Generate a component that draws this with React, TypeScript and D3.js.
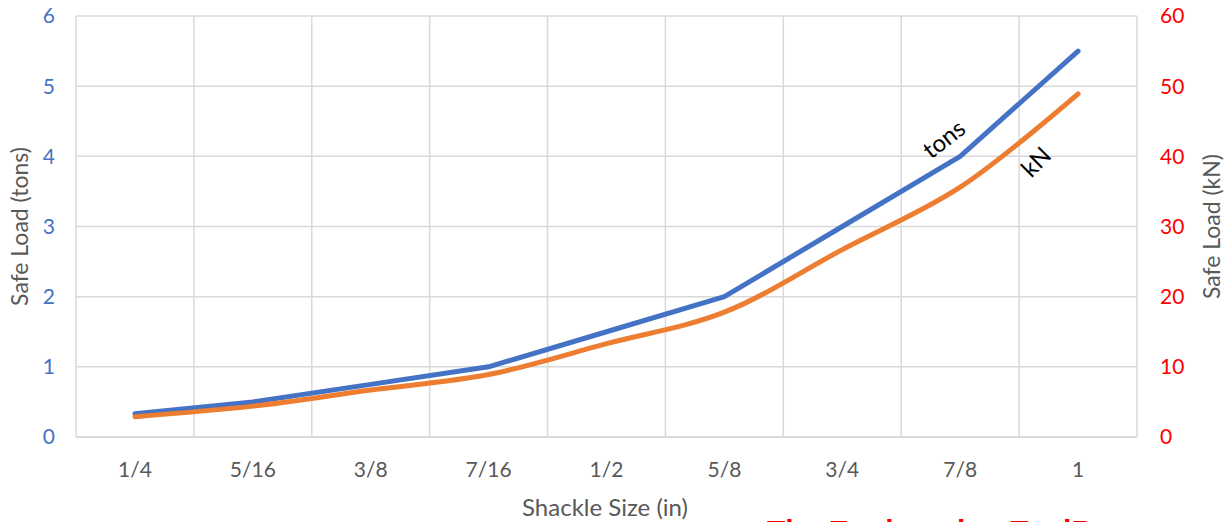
import React from "react";
import * as d3 from "d3";

const categories = ["1/4", "5/16", "3/8", "7/16", "1/2", "5/8", "3/4", "7/8", "1"];
const tons = [0.33, 0.5, 0.75, 1, 1.5, 2, 3, 4, 5.5];
const kN = [2.9, 4.4, 6.7, 8.9, 13.3, 17.8, 26.7, 35.6, 48.9];
const leftTicks = [0, 1, 2, 3, 4, 5, 6];
const rightTicks = [0, 10, 20, 30, 40, 50, 60];

const W = 1227;
const H = 522;
const m = { left: 76, right: 1137, top: 16, bottom: 437 };
const font = "Lato, 'Open Sans', sans-serif";

export default function App() {
  const x = d3.scaleBand<string>().domain(categories).range([m.left, m.right]).padding(0);
  const yL = d3.scaleLinear().domain([0, 6]).range([m.bottom, m.top]);
  const yR = d3.scaleLinear().domain([0, 60]).range([m.bottom, m.top]);
  const cx = (c: string) => (x(c) as number) + x.bandwidth() / 2;

  const tonsLine = d3
    .line<number>()
    .x((_, i) => cx(categories[i]))
    .y((d) => yL(d))
    .curve(d3.curveLinear)(tons) as string;
  const kNLine = d3
    .line<number>()
    .x((_, i) => cx(categories[i]))
    .y((d) => yR(d))
    .curve(d3.curveCatmullRom.alpha(0.5))(kN) as string;

  const boundaries = categories.map((c) => x(c) as number).concat([m.right]);

  return (
    <svg
      width={W}
      height={H}
      style={{ position: "absolute", left: 0, top: 0, background: "#fff", overflow: "hidden" }}
      fontFamily={font}
    >
      <rect x={0} y={0} width={W} height={H} fill="#fff" />
      {leftTicks.map((t) => (
        <line key={"h" + t} x1={m.left} x2={m.right} y1={yL(t)} y2={yL(t)} stroke="#D9D9D9" strokeWidth={1.5} />
      ))}
      {boundaries.map((b, i) => (
        <line key={"v" + i} x1={b} x2={b} y1={m.top} y2={m.bottom} stroke="#D9D9D9" strokeWidth={1.5} />
      ))}
      <line x1={m.left} x2={m.right} y1={m.bottom} y2={m.bottom} stroke="#D9D9D9" strokeWidth={2} />

      {leftTicks.map((t) => (
        <text key={"l" + t} x={55} y={yL(t)} dy="0.35em" textAnchor="end" fontSize={21} fill="#4472C4">
          {t}
        </text>
      ))}
      {rightTicks.map((t) => (
        <text key={"r" + t} x={1160} y={yR(t)} dy="0.35em" textAnchor="start" fontSize={21} fill="#FF0000">
          {t}
        </text>
      ))}
      {categories.map((c) => (
        <text key={"c" + c} x={cx(c)} y={470} dy="0.35em" textAnchor="middle" fontSize={21} fill="#595959">
          {c}
        </text>
      ))}

      <text x={605} y={508} dy="0.35em" textAnchor="middle" fontSize={24} fill="#595959">
        Shackle Size (in)
      </text>
      <text
        transform={`translate(20,${(m.top + m.bottom) / 2}) rotate(-90)`}
        textAnchor="middle"
        dy="0.35em"
        fontSize={23}
        fill="#595959"
      >
        Safe Load (tons)
      </text>
      <text
        transform={`translate(1212,${(m.top + m.bottom) / 2}) rotate(-90)`}
        textAnchor="middle"
        dy="0.35em"
        fontSize={23}
        fill="#595959"
      >
        Safe Load (kN)
      </text>

      <path d={tonsLine} fill="none" stroke="#4472C4" strokeWidth={5} strokeLinecap="round" strokeLinejoin="round" />
      <path d={kNLine} fill="none" stroke="#ED7D31" strokeWidth={5} strokeLinecap="round" strokeLinejoin="round" />

      <text transform="translate(944,139) rotate(-38)" textAnchor="middle" dy="0.35em" fontSize={24} fill="#000">
        tons
      </text>
      <text transform="translate(1036,162) rotate(-45)" textAnchor="middle" dy="0.35em" fontSize={24} fill="#000">
        kN
      </text>

      <text x={767} y={541} fontSize={30} fontWeight="bold" fill="#FF0000" fontFamily="'Liberation Sans', Arial, sans-serif">
        The Engineering ToolBox
      </text>
    </svg>
  );
}
